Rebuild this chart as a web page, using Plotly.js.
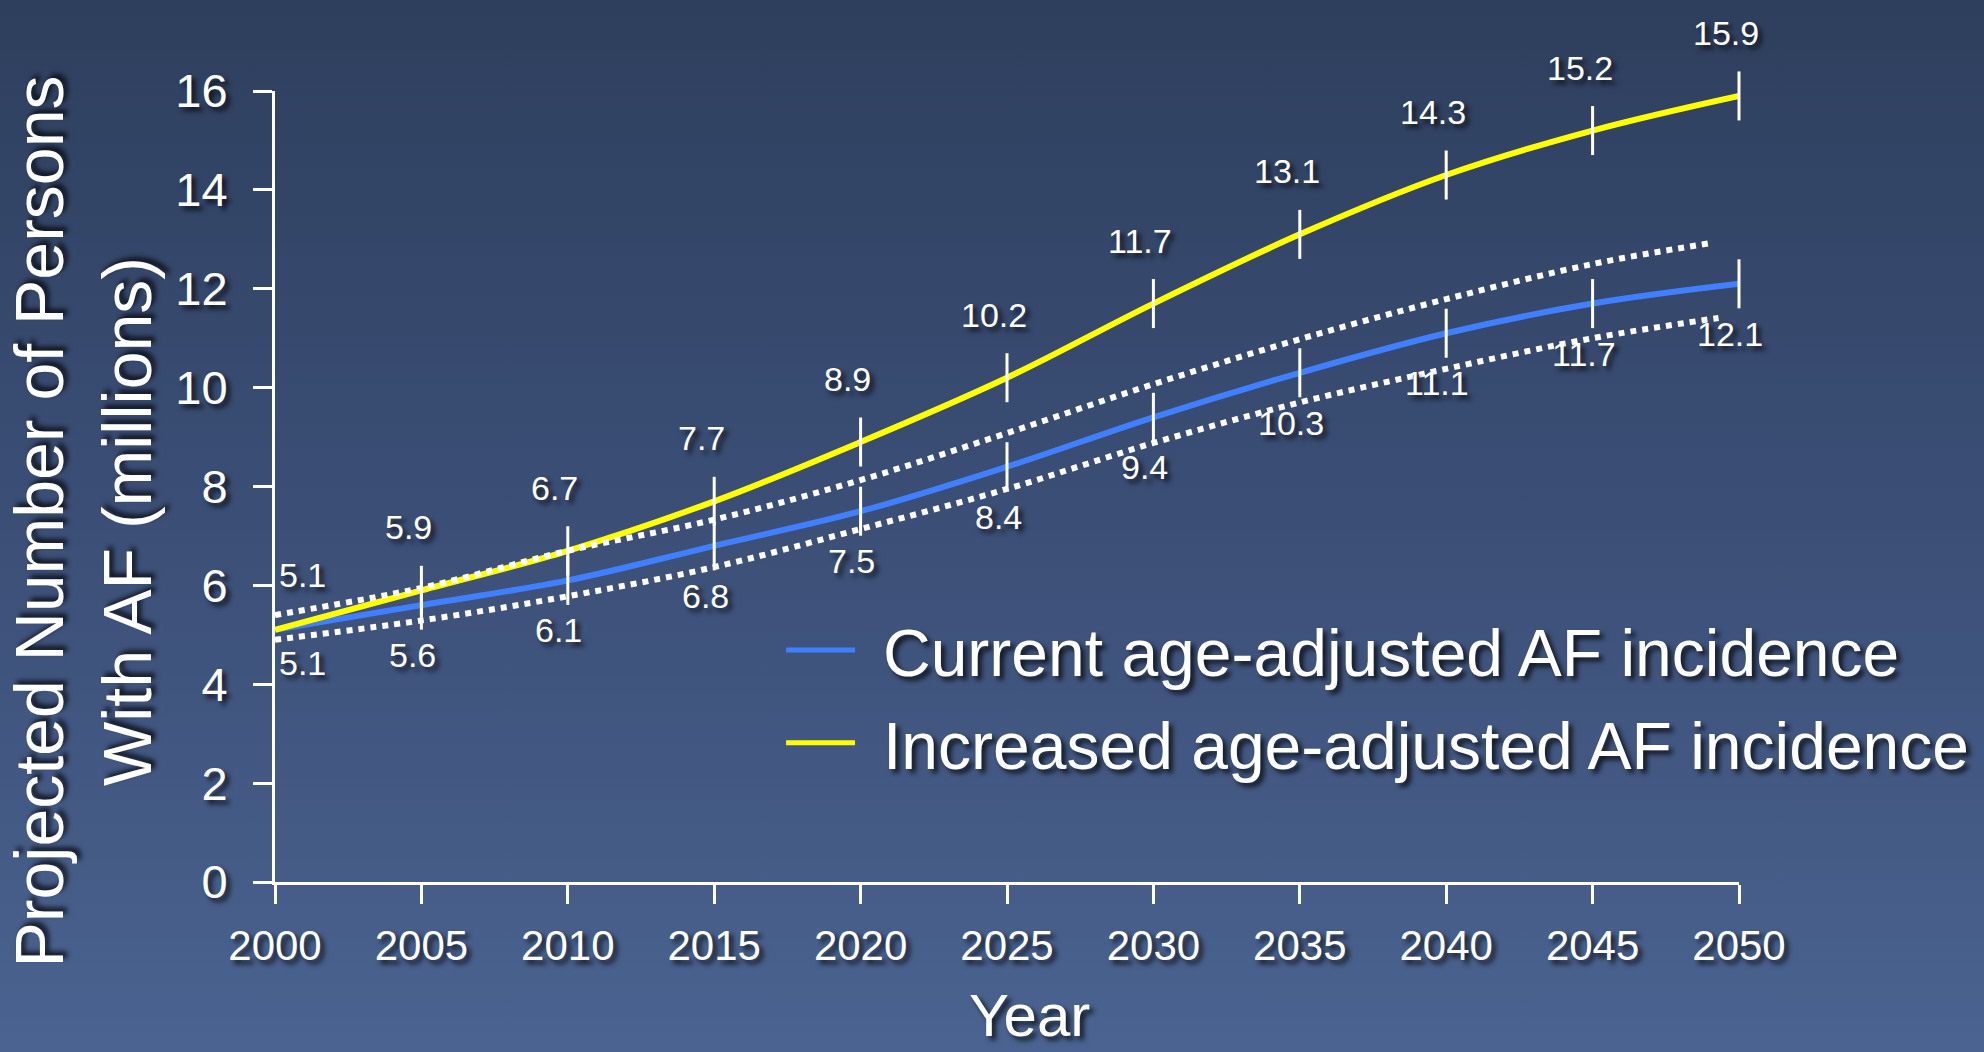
<!DOCTYPE html>
<html>
<head>
<meta charset="utf-8">
<script src="https://cdn.plot.ly/plotly-3.0.1.min.js"></script>
<style>
  html, body { margin: 0; padding: 0; }
  body { width: 1984px; height: 1052px; overflow: hidden;
         background: linear-gradient(to bottom, #2e3f5d 0%, #3a4d74 45%, #4a6390 100%); }
  #chart { width: 1984px; height: 1052px; }
</style>
</head>
<body>
<div id="chart"></div>
<script>
// ---- data ----
const years = [2000, 2005, 2010, 2015, 2020, 2025, 2030, 2035, 2040, 2045, 2050];
const currentIncidence   = [5.1, 5.6, 6.1, 6.8, 7.5, 8.4, 9.4, 10.3, 11.1, 11.7, 12.1];
const increasedIncidence = [5.1, 5.9, 6.7, 7.7, 8.9, 10.2, 11.7, 13.1, 14.3, 15.2, 15.9];
const upperBoundYears = [2000, 2005, 2010, 2015, 2020, 2025, 2030, 2035, 2040, 2045, 2049];
const upperBound      = [5.4, 5.95, 6.7, 7.33, 8.13, 9.08, 10.07, 10.98, 11.79, 12.5, 12.92];
const lowerBoundYears = [2000, 2005, 2010, 2015, 2020, 2025, 2030, 2035, 2040, 2045, 2049.3];
const lowerBound      = [4.9, 5.29, 5.78, 6.37, 7.14, 7.95, 8.88, 9.7, 10.38, 11.0, 11.41];
const seriesNames = ['Current age-adjusted AF incidence', 'Increased age-adjusted AF incidence'];
const xTickVals = [2000, 2005, 2010, 2015, 2020, 2025, 2030, 2035, 2040, 2045, 2050];
const yTickVals = [0, 2, 4, 6, 8, 10, 12, 14, 16];
const yTitleLines = ['Projected Number of Persons', 'With AF (millions)'];
const xTitle = 'Year';

// ---- styles ----
const FONT = '"Liberation Sans", Arial, Helvetica, sans-serif';
const SHADOW = '4px 4px 5px rgba(0,0,0,0.75)';
const BLUE = '#4080ff';
const YELLOW = '#ffff00';
const WHITE = '#ffffff';

const lineTrace = (x, y, color) => ({
  x, y, type: 'scatter', mode: 'lines', showlegend: false, cliponaxis: false,
  line: {color, width: 6, shape: 'spline', smoothing: 1}, hoverinfo: 'skip'
});
const dotTrace = (x, y) => ({
  x, y, type: 'scatter', mode: 'lines', showlegend: false, cliponaxis: false,
  line: {color: WHITE, width: 6, dash: '6px,6px', shape: 'spline', smoothing: 1}, hoverinfo: 'skip'
});
const tickTrace = (x, y) => ({
  x, y, type: 'scatter', mode: 'markers', showlegend: false, cliponaxis: false,
  marker: {symbol: 'line-ns', size: 35, color: WHITE, line: {color: WHITE, width: 3}}, hoverinfo: 'skip'
});

const traces = [
  lineTrace(years, currentIncidence, BLUE),
  lineTrace(years, increasedIncidence, YELLOW),
  dotTrace(upperBoundYears, upperBound),
  dotTrace(lowerBoundYears, lowerBound),
  tickTrace(years.slice(1), currentIncidence.slice(1)),
  tickTrace(years.slice(1), increasedIncidence.slice(1))
];

// ---- annotations ----
const labelFont = {family: FONT, size: 34, color: WHITE, shadow: SHADOW};
const annotations = [];
years.forEach((yr, i) => {
  const first = (i === 0);
  annotations.push({
    x: yr, y: increasedIncidence[i], xref: 'x', yref: 'y', showarrow: false,
    text: increasedIncidence[i].toFixed(1), font: labelFont,
    xshift: first ? 27 : -13, yshift: first ? 55 : 63
  });
  annotations.push({
    x: yr, y: currentIncidence[i], xref: 'x', yref: 'y', showarrow: false,
    text: currentIncidence[i].toFixed(1), font: labelFont,
    xshift: first ? 27 : -9, yshift: first ? -33 : -50
  });
});

// axis titles
const titleFont = {family: FONT, size: 68, color: WHITE, shadow: SHADOW};
annotations.push({
  xref: 'paper', yref: 'paper', x: -0.131, y: 0.456, showarrow: false,
  text: yTitleLines.join('<br>'), textangle: -90, font: titleFont,
  xanchor: 'center', yanchor: 'middle', align: 'center'
});
annotations.push({
  xref: 'paper', yref: 'paper', x: 0.5153, y: -0.1682, showarrow: false,
  text: xTitle, font: {family: FONT, size: 60, color: WHITE, shadow: SHADOW},
  xanchor: 'center', yanchor: 'middle'
});

// legend (drawn)
const legendColors = [BLUE, YELLOW];
const legendY = [0.2934, 0.1761];
const shapes = [];
seriesNames.forEach((name, i) => {
  shapes.push({type: 'line', xref: 'paper', yref: 'paper',
    x0: 0.3491, x1: 0.3962, y0: legendY[i], y1: legendY[i],
    line: {color: legendColors[i], width: 5}});
  annotations.push({xref: 'paper', yref: 'paper', x: 0.4137, y: legendY[i] - 0.004,
    showarrow: false, text: name, xanchor: 'left', yanchor: 'middle',
    font: {family: FONT, size: 66, color: WHITE, shadow: SHADOW}});
});

const axisCommon = {
  showline: true, linecolor: WHITE, linewidth: 3,
  ticks: 'outside', ticklen: 19, tickwidth: 3, tickcolor: WHITE,
  showgrid: false, zeroline: false, fixedrange: true
};

const layout = {
  width: 1984, height: 1052,
  margin: {l: 275, r: 245, t: 91, b: 170, pad: 0},
  paper_bgcolor: 'rgba(0,0,0,0)', plot_bgcolor: 'rgba(0,0,0,0)',
  showlegend: false,
  xaxis: Object.assign({}, axisCommon, {
    range: [2000, 2050], tickmode: 'array', tickvals: xTickVals,
    ticktext: xTickVals.map(String), ticklabelstandoff: 6,
    tickfont: {family: FONT, size: 42, color: WHITE, shadow: SHADOW}
  }),
  yaxis: Object.assign({}, axisCommon, {
    range: [0, 16], tickmode: 'array', tickvals: yTickVals,
    ticktext: yTickVals.map(String), ticklabelstandoff: 16,
    tickfont: {family: FONT, size: 47, color: WHITE, shadow: SHADOW}
  }),
  annotations, shapes
};

Plotly.newPlot('chart', traces, layout, {displayModeBar: false, staticPlot: true});
</script>
</body>
</html>
